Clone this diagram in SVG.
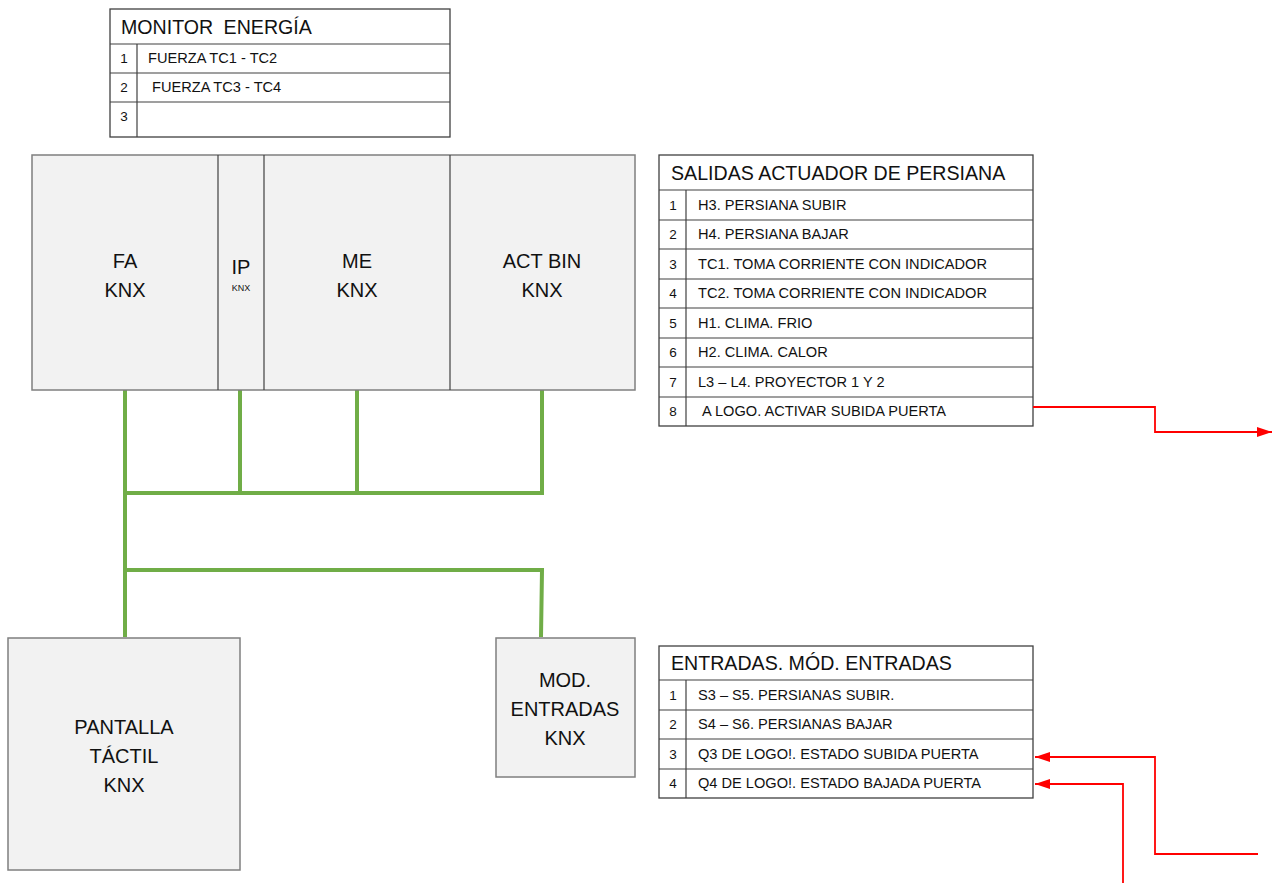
<svg xmlns="http://www.w3.org/2000/svg" width="1278" height="883" viewBox="0 0 1278 883">
<defs>
<style>
.box{fill:#f2f2f2;stroke:#7f7f7f;stroke-width:1.5}
.div{stroke:#404040;stroke-width:1.2}
.tbl{fill:#ffffff;stroke:#404040;stroke-width:1.3}
.ln{stroke:#404040;stroke-width:1.2}
.bus{stroke:#70ad47;stroke-width:4;fill:none}
.red{stroke:#ff0000;stroke-width:1.8;fill:none}
.lbl{font-family:"Liberation Sans",Arial,sans-serif;font-size:20px;fill:#111;text-anchor:middle}
.sm{font-family:"Liberation Sans",Arial,sans-serif;font-size:9px;fill:#111;text-anchor:middle}
.hd{font-family:"Liberation Sans",Arial,sans-serif;font-size:19.6px;fill:#111}
.rw{font-family:"Liberation Sans",Arial,sans-serif;font-size:14.6px;fill:#111}
.num{font-family:"Liberation Sans",Arial,sans-serif;font-size:13.5px;fill:#111;text-anchor:middle}
</style>
<marker id="ah" markerWidth="15" markerHeight="10" refX="15" refY="5" orient="auto" markerUnits="userSpaceOnUse">
<path d="M0,0 L15,5 L0,10 Z" fill="#ff0000"/>
</marker>
</defs>
<rect width="1278" height="883" fill="#ffffff"/>

<g id="monitor-energia">
<rect class="tbl" x="110" y="9" width="340" height="128"/>
<line class="ln" x1="110" y1="44" x2="450" y2="44"/>
<line class="ln" x1="110" y1="73" x2="450" y2="73"/>
<line class="ln" x1="110" y1="102" x2="450" y2="102"/>
<line class="ln" x1="137" y1="44" x2="137" y2="137"/>
<text class="hd" x="121" y="34" font-size="20.5" word-spacing="5">MONITOR ENERGÍA</text>
<text class="num" x="124" y="63">1</text>
<text class="rw" x="148" y="63">FUERZA TC1 - TC2</text>
<text class="num" x="124" y="92">2</text>
<text class="rw" x="152" y="92">FUERZA TC3 - TC4</text>
<text class="num" x="124" y="121">3</text>
</g>

<g id="bus">
<path class="bus" d="M125,390 V637"/>
<path class="bus" d="M240,390 V493"/>
<path class="bus" d="M357,390 V493"/>
<path class="bus" d="M125,493 H542 V390"/>
<path class="bus" d="M125,570 H542 L541,637"/>
</g>

<g id="main-rack">
<rect class="box" x="32" y="155" width="603" height="235"/>
<line class="div" x1="218" y1="155" x2="218" y2="390"/>
<line class="div" x1="264" y1="155" x2="264" y2="390"/>
<line class="div" x1="450" y1="155" x2="450" y2="390"/>
</g>
<g id="fa-knx">
<text class="lbl" x="125" y="268">FA</text>
<text class="lbl" x="125" y="297">KNX</text>
</g>
<g id="ip-knx">
<text class="lbl" x="241" y="274">IP</text>
<text class="sm" x="241" y="291">KNX</text>
</g>
<g id="me-knx">
<text class="lbl" x="357" y="268">ME</text>
<text class="lbl" x="357" y="297">KNX</text>
</g>
<g id="act-bin-knx">
<text class="lbl" x="542" y="268">ACT BIN</text>
<text class="lbl" x="542" y="297">KNX</text>
</g>

<g id="pantalla-tactil">
<rect class="box" x="8" y="638" width="232" height="232"/>
<text class="lbl" x="124" y="734">PANTALLA</text>
<text class="lbl" x="124" y="763">TÁCTIL</text>
<text class="lbl" x="124" y="792">KNX</text>
</g>

<g id="mod-entradas">
<rect class="box" x="496" y="638" width="139" height="139"/>
<text class="lbl" x="565" y="687">MOD.</text>
<text class="lbl" x="565" y="716">ENTRADAS</text>
<text class="lbl" x="565" y="745">KNX</text>
</g>

<g id="salidas-actuador">
<rect class="tbl" x="659" y="155" width="374" height="271"/>
<line class="ln" x1="659" y1="190" x2="1033" y2="190"/>
<line class="ln" x1="659" y1="220" x2="1033" y2="220"/>
<line class="ln" x1="659" y1="249" x2="1033" y2="249"/>
<line class="ln" x1="659" y1="279" x2="1033" y2="279"/>
<line class="ln" x1="659" y1="308" x2="1033" y2="308"/>
<line class="ln" x1="659" y1="338" x2="1033" y2="338"/>
<line class="ln" x1="659" y1="367" x2="1033" y2="367"/>
<line class="ln" x1="659" y1="397" x2="1033" y2="397"/>
<line class="ln" x1="686" y1="190" x2="686" y2="426"/>
<text class="hd" x="671" y="180">SALIDAS ACTUADOR DE PERSIANA</text>
<text class="num" x="673" y="210">1</text><text class="rw" x="698" y="210">H3. PERSIANA SUBIR</text>
<text class="num" x="673" y="239">2</text><text class="rw" x="698" y="239">H4. PERSIANA BAJAR</text>
<text class="num" x="673" y="269">3</text><text class="rw" x="698" y="269">TC1. TOMA CORRIENTE CON INDICADOR</text>
<text class="num" x="673" y="298">4</text><text class="rw" x="698" y="298">TC2. TOMA CORRIENTE CON INDICADOR</text>
<text class="num" x="673" y="328">5</text><text class="rw" x="698" y="328">H1. CLIMA. FRIO</text>
<text class="num" x="673" y="357">6</text><text class="rw" x="698" y="357">H2. CLIMA. CALOR</text>
<text class="num" x="673" y="387">7</text><text class="rw" x="698" y="387">L3 – L4. PROYECTOR 1 Y 2</text>
<text class="num" x="673" y="416">8</text><text class="rw" x="702" y="416">A LOGO. ACTIVAR SUBIDA PUERTA</text>
</g>

<g id="entradas-mod">
<rect class="tbl" x="659" y="646" width="374" height="152"/>
<line class="ln" x1="659" y1="680" x2="1033" y2="680"/>
<line class="ln" x1="659" y1="710" x2="1033" y2="710"/>
<line class="ln" x1="659" y1="739" x2="1033" y2="739"/>
<line class="ln" x1="659" y1="769" x2="1033" y2="769"/>
<line class="ln" x1="686" y1="680" x2="686" y2="798"/>
<text class="hd" x="671" y="670">ENTRADAS. MÓD. ENTRADAS</text>
<text class="num" x="673" y="700">1</text><text class="rw" x="698" y="700">S3 – S5. PERSIANAS SUBIR.</text>
<text class="num" x="673" y="729">2</text><text class="rw" x="698" y="729">S4 – S6. PERSIANAS BAJAR</text>
<text class="num" x="673" y="759">3</text><text class="rw" x="698" y="759">Q3 DE LOGO!. ESTADO SUBIDA PUERTA</text>
<text class="num" x="673" y="788">4</text><text class="rw" x="698" y="788">Q4 DE LOGO!. ESTADO BAJADA PUERTA</text>
</g>

<g id="connectors">
<path class="red" d="M1033,407 H1155 V432 H1272" marker-end="url(#ah)"/>
<path class="red" d="M1258,854 H1155 V757 H1035" marker-end="url(#ah)"/>
<path class="red" d="M1123,883 V784 H1035" marker-end="url(#ah)"/>
</g>
</svg>
